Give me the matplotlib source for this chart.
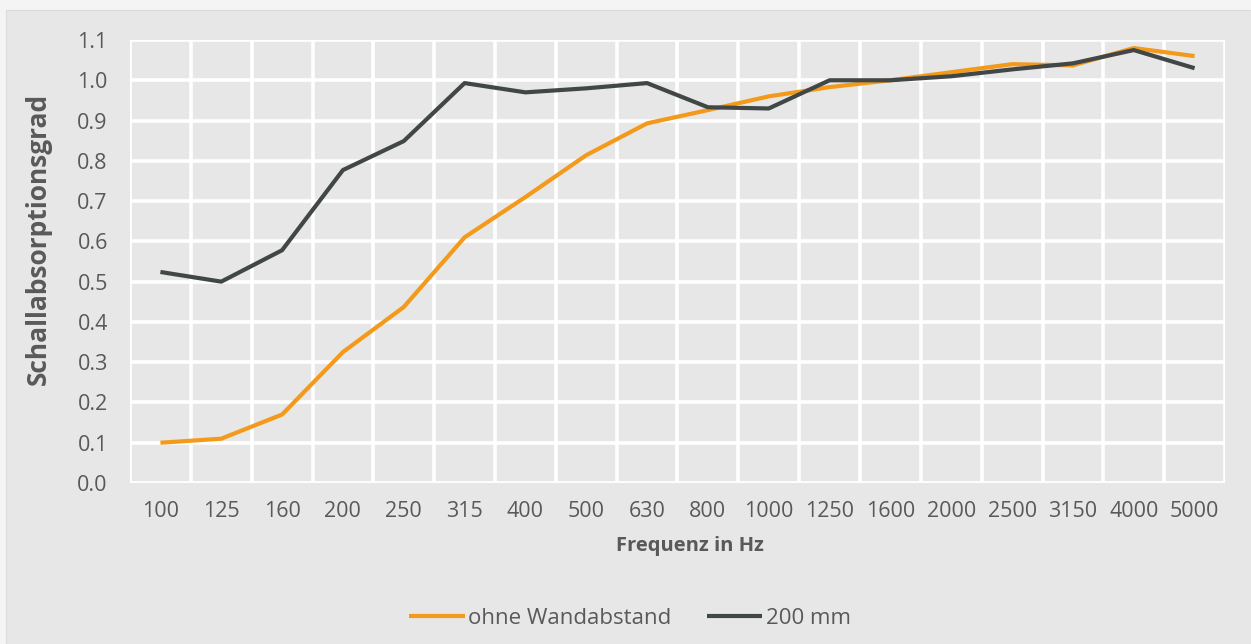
import matplotlib
matplotlib.use("Agg")
import matplotlib.pyplot as plt
from matplotlib.patches import Rectangle

categories = ["100", "125", "160", "200", "250", "315", "400", "500", "630", "800",
              "1000", "1250", "1600", "2000", "2500", "3150", "4000", "5000"]
ohne_wandabstand = [0.10, 0.11, 0.17, 0.325, 0.437, 0.61, 0.71, 0.814, 0.893, 0.926,
                    0.96, 0.983, 1.00, 1.02, 1.04, 1.037, 1.08, 1.06]
mm200 = [0.524, 0.50, 0.578, 0.777, 0.849, 0.993, 0.97, 0.98, 0.993, 0.933,
         0.93, 1.00, 1.00, 1.01, 1.027, 1.042, 1.075, 1.03]
y_ticks = [0.0, 0.1, 0.2, 0.3, 0.4, 0.5, 0.6, 0.7, 0.8, 0.9, 1.0, 1.1]

plt.rcParams['font.family'] = ['Open Sans', 'DejaVu Sans']

W, H = 1251, 644
fig = plt.figure(figsize=(W / 100, H / 100), dpi=100, facecolor='#f3f4f3')
fig.patches.append(Rectangle((6 / W, 0), 1 - 6 / W, (H - 10) / H, transform=fig.transFigure,
                             facecolor='#e7e7e7', edgecolor='#dcdcdc', lw=0.8, zorder=-10))

ax = fig.add_axes([130 / W, (H - 483) / H, (1225 - 130) / W, (483 - 40) / H])
ax.set_facecolor('none')

x = list(range(len(categories)))
ax.plot(x, ohne_wandabstand, color='#f39a1b', lw=3.0, label='ohne Wandabstand',
        solid_capstyle='butt', zorder=3)
ax.plot(x, mm200, color='#414747', lw=3.0, label='200 mm', solid_capstyle='butt', zorder=4)

ax.set_xlim(-0.5, len(categories) - 0.5)
ax.set_ylim(0, 1.1)
ax.set_xticks(x)
ax.set_xticklabels(categories)
ax.set_xticks([i - 0.5 for i in range(len(categories) + 1)], minor=True)
ax.set_yticks(y_ticks)
ax.set_yticklabels([f"{v:.1f}" for v in y_ticks])

ax.grid(True, which='minor', axis='x', color='white', lw=2.6)
ax.grid(True, which='major', axis='y', color='white', lw=2.6)
ax.grid(False, which='major', axis='x')
ax.set_axisbelow(True)
for s in ax.spines.values():
    s.set_visible(False)
ax.tick_params(which='both', length=0)
ax.tick_params(axis='x', pad=13, labelsize=15.5, labelcolor='#595959')
ax.tick_params(axis='y', pad=16, labelsize=15.5, labelcolor='#595959')

ax.set_xlabel('Frequenz in Hz', fontsize=14.5, fontweight='bold', color='#595959', va='center')
ax.xaxis.set_label_coords((690 - 130) / 1095, (483 - 546) / 443)
ax.set_ylabel('Schallabsorptionsgrad', fontsize=19, fontweight='bold', color='#595959', va='center')
ax.yaxis.set_label_coords((38 - 130) / 1095, (483 - 239) / 443)

fig.legend(loc='center', bbox_to_anchor=(630 / W, 26 / H), ncol=2, frameon=False,
           fontsize=16, labelcolor='#595959', handlelength=2.5, handletextpad=0.15,
           columnspacing=1.6)

fig.savefig('out.png', dpi=100, facecolor=fig.get_facecolor())
